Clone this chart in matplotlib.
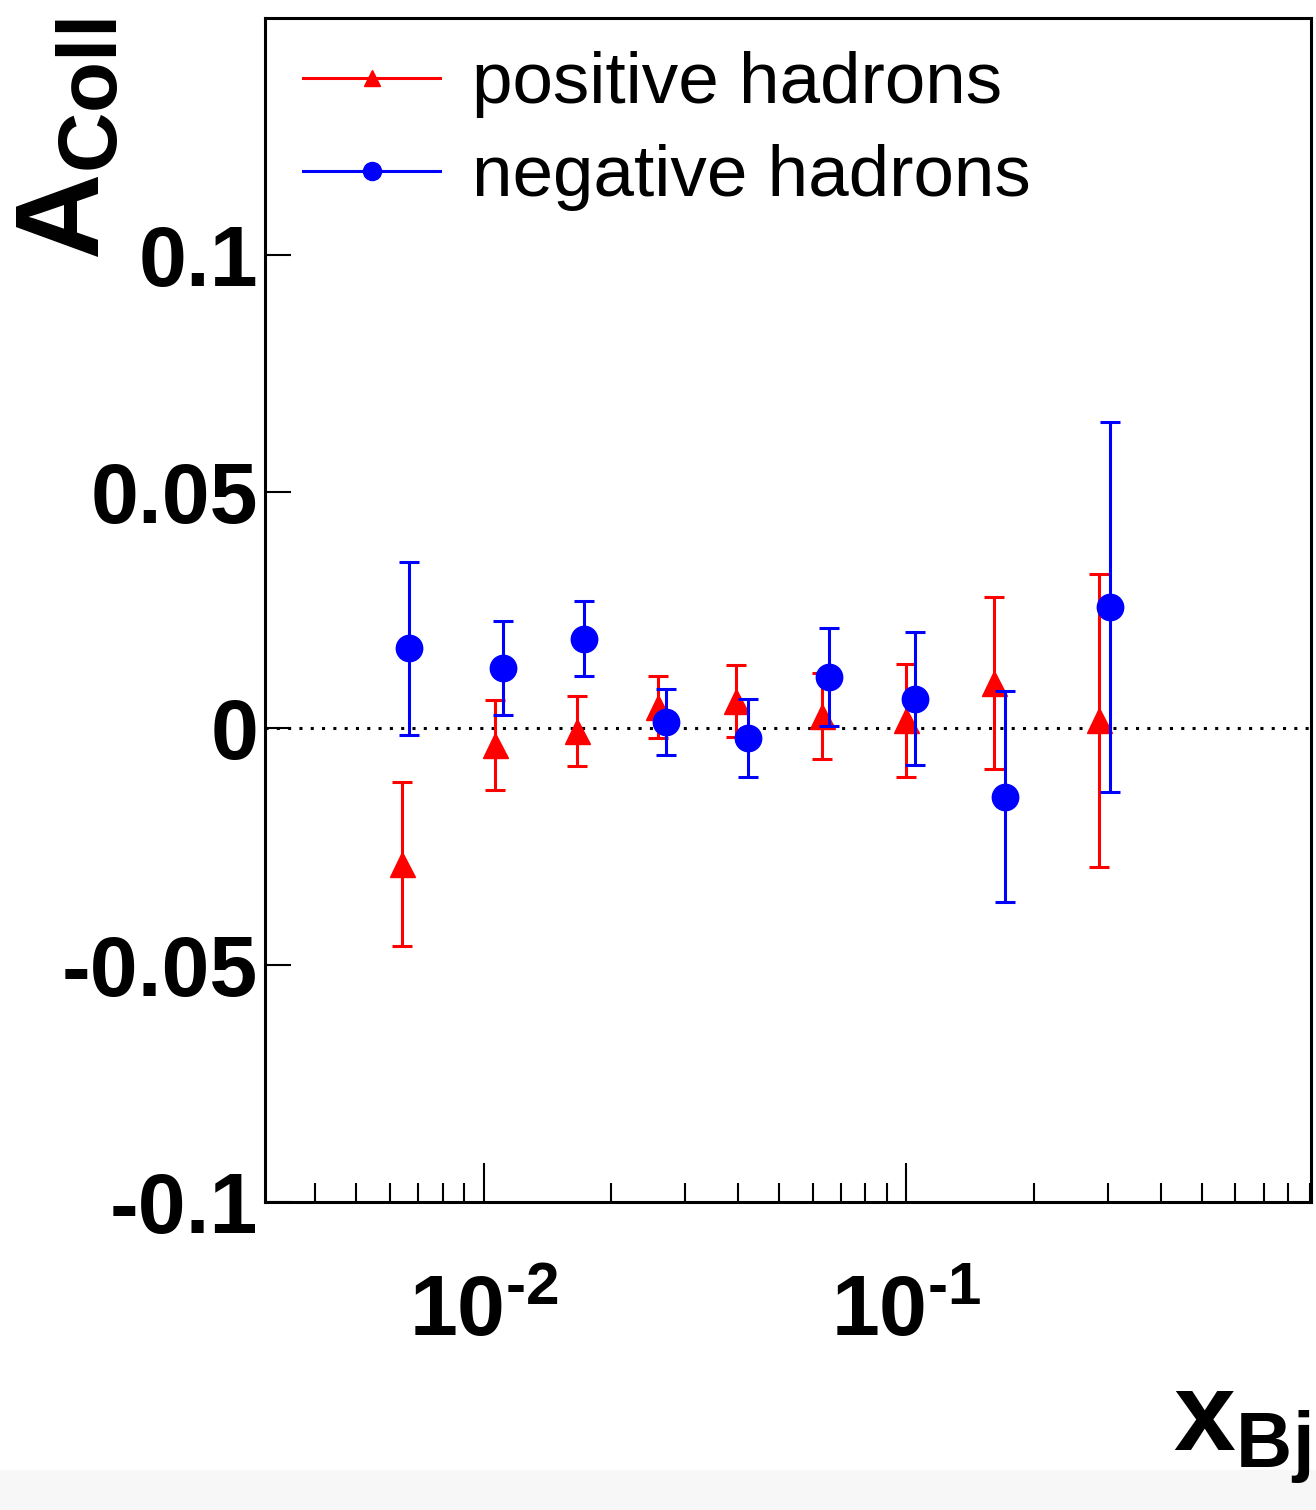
import matplotlib
matplotlib.use('Agg')
import matplotlib.pyplot as plt
from matplotlib.lines import Line2D
from matplotlib.patches import Rectangle
from matplotlib.ticker import FixedLocator, LogLocator, NullFormatter

plt.rcParams['font.family'] = ['Liberation Sans', 'DejaVu Sans']
plt.rcParams['mathtext.fontset'] = 'custom'
plt.rcParams['mathtext.rm'] = 'Liberation Sans:bold'
plt.rcParams['mathtext.bf'] = 'Liberation Sans:bold'
plt.rcParams['mathtext.it'] = 'Liberation Sans:bold'

# ---- data ----
pos_x = [0.00640, 0.01065, 0.01662, 0.02592, 0.03960, 0.0632, 0.100, 0.1609, 0.2851]
pos_y = [-0.0286, -0.0036, -0.0006, 0.0045, 0.0058, 0.0026, 0.0017, 0.0096, 0.0017]
pos_err = [0.0173, 0.0095, 0.0074, 0.0066, 0.0076, 0.0090, 0.0120, 0.0181, 0.0310]

neg_x = [0.00666, 0.01110, 0.01732, 0.02704, 0.04233, 0.0658, 0.1050, 0.1715, 0.3039]
neg_y = [0.0169, 0.0128, 0.0189, 0.0013, -0.0020, 0.0109, 0.0063, -0.0144, 0.0257]
neg_err = [0.0182, 0.0099, 0.0079, 0.0070, 0.0082, 0.0103, 0.0140, 0.0222, 0.0391]

series_labels = ['positive hadrons', 'negative hadrons']
y_ticks = [-0.1, -0.05, 0.0, 0.05, 0.1]
y_ticklabels = ['-0.1', '-0.05', '0', '0.05', '0.1']
x_ticks = [0.01, 0.1]
x_ticklabels = [r'$\mathbf{10^{\text{-}2}}$', r'$\mathbf{10^{\text{-}1}}$']

W, H = 1316, 1510
fig = plt.figure(figsize=(W / 100, H / 100), dpi=100)
fig.patches.append(Rectangle((0, 0), 1, 40 / H, transform=fig.transFigure,
                             color='#f7f7f7', zorder=-1))

ax = fig.add_axes([265 / W, 1 - 1202 / H, (1311 - 265) / W, (1202 - 18) / H])
ax.set_xscale('log')
ax.set_xlim(0.00304, 0.9066)
ax.set_ylim(-0.1, 0.15)

ax.axhline(0, color='black', lw=2.2, ls=(0, (1, 2.7)), zorder=1)

ax.errorbar(pos_x, pos_y, yerr=pos_err, fmt='^', color='#ff0000', ms=18,
            capsize=7, elinewidth=2.2, capthick=2.2, zorder=3)
ax.errorbar(neg_x, neg_y, yerr=neg_err, fmt='o', color='#0000ff', ms=19,
            capsize=7, elinewidth=2.2, capthick=2.2, zorder=4)

for s in ax.spines.values():
    s.set_linewidth(2.2)

ax.yaxis.set_major_locator(FixedLocator(y_ticks))
ax.set_yticklabels(y_ticklabels, fontsize=62, fontweight='bold')
ax.tick_params(axis='y', which='major', direction='in', length=19, width=1.5,
               pad=5, right=False)
ax.tick_params(axis='y', which='minor', left=False, right=False)

ax.xaxis.set_major_locator(FixedLocator(x_ticks))
ax.set_xticklabels(x_ticklabels, fontsize=62)
ax.xaxis.set_minor_locator(LogLocator(base=10, subs=range(2, 10)))
ax.xaxis.set_minor_formatter(NullFormatter())
ax.tick_params(axis='x', which='major', direction='in', length=28, width=1.5, pad=52)
ax.tick_params(axis='x', which='minor', direction='in', length=14, width=1.5)

handles = [Line2D([], [], color='#ff0000', marker='^', ms=12, lw=2.2),
           Line2D([], [], color='#0000ff', marker='o', ms=13, lw=2.2)]
ax.legend(handles, series_labels, loc='upper left', bbox_to_anchor=(38 / 1046, 0.972),
          frameon=False, fontsize=52.5, handlelength=1.88, handletextpad=0.44,
          borderpad=0, borderaxespad=0, labelspacing=0.36)

fig.text(100 / W, 1 - 18 / H, r'$\mathbf{A_{Coll}}$', fontsize=86, rotation=90,
         rotation_mode='anchor', ha='right', va='baseline')
fig.text(1310 / W, 1 - 1450 / H, r'$\mathbf{x_{Bj}}$', fontsize=80,
         ha='right', va='baseline')

fig.savefig('out.png', dpi=100)
